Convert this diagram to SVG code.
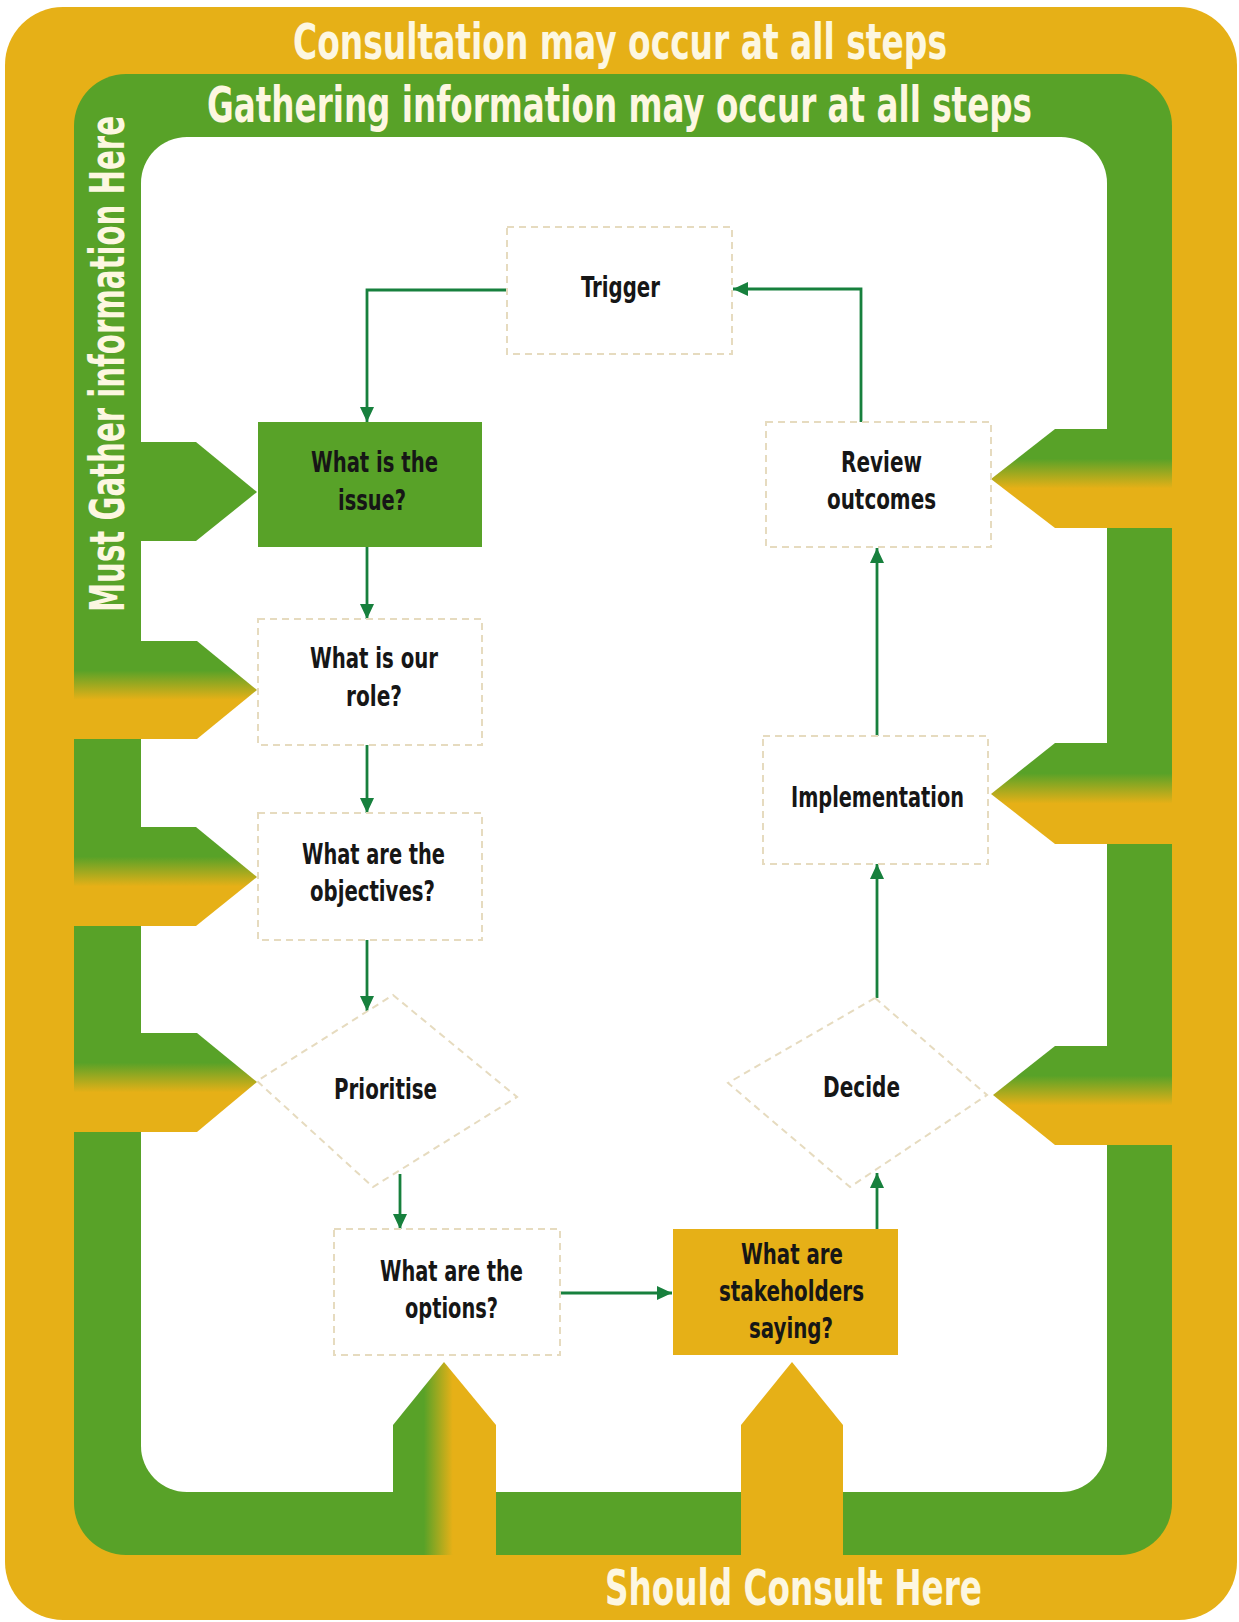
<svg xmlns="http://www.w3.org/2000/svg" width="1239" height="1622" viewBox="0 0 1239 1622">
  <style>
    .band-text { font-family: "Liberation Sans Narrow", "DejaVu Sans Condensed", "Liberation Sans", sans-serif; font-weight: bold; font-size: 36px; fill: #fdf7e1; }
    .node-text { font-family: "Liberation Sans Narrow", "DejaVu Sans Condensed", "Liberation Sans", sans-serif; font-weight: bold; font-size: 29px; fill: #161616; }
    .dash { fill: #ffffff; stroke: #e6dbbf; stroke-width: 2; stroke-dasharray: 7 5; }
    .conn { fill: none; stroke: #17803d; stroke-width: 2.8; marker-end: url(#arrow); }
    .green { fill: #58a228; }
    .orange { fill: #e6b017; }
  </style>
  <defs>
    <marker id="arrow" markerUnits="userSpaceOnUse" markerWidth="15" markerHeight="14" refX="15" refY="7" orient="auto">
      <path d="M0,0 L15,7 L0,14 z" fill="#17803d"/>
    </marker>
    <linearGradient id="gradV" x1="0" y1="0" x2="0" y2="1">
      <stop offset="0" stop-color="#58a228"/>
      <stop offset="0.3" stop-color="#58a228"/>
      <stop offset="0.6" stop-color="#e6b017"/>
      <stop offset="1" stop-color="#e6b017"/>
    </linearGradient>
    <linearGradient id="gradH" x1="0" y1="0" x2="1" y2="0">
      <stop offset="0" stop-color="#58a228"/>
      <stop offset="0.3" stop-color="#58a228"/>
      <stop offset="0.58" stop-color="#e6b017"/>
      <stop offset="1" stop-color="#e6b017"/>
    </linearGradient>
  </defs>

  <rect width="1239" height="1622" fill="#ffffff"/>

  <g id="bands">
    <rect class="orange" x="5" y="7" width="1232" height="1613" rx="58"/>
    <rect class="green" x="74" y="74" width="1098" height="1481" rx="52"/>
    <rect fill="#ffffff" x="141" y="137" width="966" height="1355" rx="46"/>
  </g>

  <g id="tabs">
    <polygon class="green" points="140,442 196,442 257,492 196,541 140,541"/>
    <polygon fill="url(#gradV)" points="74,641 197,641 257,690 197,739 74,739"/>
    <polygon fill="url(#gradV)" points="74,827 196,827 257,877 196,926 74,926"/>
    <polygon fill="url(#gradV)" points="74,1033 197,1033 257,1082 197,1132 74,1132"/>
    <polygon fill="url(#gradV)" points="1172,429 1055,429 991,479 1055,528 1172,528"/>
    <polygon fill="url(#gradV)" points="1172,743 1055,743 991,794 1055,844 1172,844"/>
    <polygon fill="url(#gradV)" points="1172,1046 1055,1046 993,1095 1055,1145 1172,1145"/>
    <polygon fill="url(#gradH)" points="393,1555 393,1425 444,1362 496,1425 496,1555"/>
    <polygon class="orange" points="741,1555 741,1425 792,1362 843,1425 843,1555"/>
  </g>

  <g id="band-labels">
    <text class="band-text" transform="translate(293,59) scale(1,1.37)" x="0" y="0" textLength="654" lengthAdjust="spacingAndGlyphs">Consultation may occur at all steps</text>
    <text class="band-text" transform="translate(207,122) scale(1,1.37)" x="0" y="0" textLength="825" lengthAdjust="spacingAndGlyphs">Gathering information may occur at all steps</text>
    <text class="band-text" transform="translate(124,612) rotate(-90) scale(1,1.35)" x="0" y="0" textLength="496" lengthAdjust="spacingAndGlyphs">Must Gather information Here</text>
    <text class="band-text" transform="translate(605,1605) scale(1,1.37)" x="0" y="0" textLength="377" lengthAdjust="spacingAndGlyphs">Should Consult Here</text>
  </g>

  <g id="connectors">
    <path class="conn" d="M507,290 H367 V422"/>
    <path class="conn" d="M367,547 V619"/>
    <path class="conn" d="M367,745 V813"/>
    <path class="conn" d="M367,940 V1011"/>
    <path class="conn" d="M400,1174 V1229"/>
    <path class="conn" d="M560,1293 H672"/>
    <path class="conn" d="M877,1229 V1173"/>
    <path class="conn" d="M877,998 V864"/>
    <path class="conn" d="M877,736 V548"/>
    <path class="conn" d="M861,422 V289 H733"/>
  </g>

  <g id="node-trigger">
    <rect class="dash" x="507" y="227" width="225" height="127"/>
    <text class="node-text" x="581" y="297" textLength="79" lengthAdjust="spacingAndGlyphs">Trigger</text>
  </g>

  <g id="node-issue">
    <rect class="green" x="258" y="422" width="224" height="125"/>
    <text class="node-text" x="311" y="472" textLength="127" lengthAdjust="spacingAndGlyphs">What is the</text>
    <text class="node-text" x="338" y="510" textLength="68" lengthAdjust="spacingAndGlyphs">issue?</text>
  </g>

  <g id="node-role">
    <rect class="dash" x="258" y="619" width="224" height="126"/>
    <text class="node-text" x="310" y="668" textLength="128" lengthAdjust="spacingAndGlyphs">What is our</text>
    <text class="node-text" x="346" y="706" textLength="56" lengthAdjust="spacingAndGlyphs">role?</text>
  </g>

  <g id="node-objectives">
    <rect class="dash" x="258" y="813" width="224" height="127"/>
    <text class="node-text" x="302" y="864" textLength="143" lengthAdjust="spacingAndGlyphs">What are the</text>
    <text class="node-text" x="310" y="901" textLength="125" lengthAdjust="spacingAndGlyphs">objectives?</text>
  </g>

  <g id="node-prioritise">
    <polygon class="dash" points="393,995 517,1097 373,1187 257,1081"/>
    <text class="node-text" x="334" y="1099" textLength="103" lengthAdjust="spacingAndGlyphs">Prioritise</text>
  </g>

  <g id="node-options">
    <rect class="dash" x="334" y="1229" width="226" height="126"/>
    <text class="node-text" x="380" y="1281" textLength="143" lengthAdjust="spacingAndGlyphs">What are the</text>
    <text class="node-text" x="405" y="1318" textLength="93" lengthAdjust="spacingAndGlyphs">options?</text>
  </g>

  <g id="node-stakeholders">
    <rect class="orange" x="673" y="1229" width="225" height="126"/>
    <text class="node-text" x="741" y="1264" textLength="102" lengthAdjust="spacingAndGlyphs">What are</text>
    <text class="node-text" x="719" y="1301" textLength="145" lengthAdjust="spacingAndGlyphs">stakeholders</text>
    <text class="node-text" x="749" y="1338" textLength="84" lengthAdjust="spacingAndGlyphs">saying?</text>
  </g>

  <g id="node-decide">
    <polygon class="dash" points="875,998 987,1095 850,1187 728,1083"/>
    <text class="node-text" x="823" y="1097" textLength="77" lengthAdjust="spacingAndGlyphs">Decide</text>
  </g>

  <g id="node-implementation">
    <rect class="dash" x="763" y="736" width="225" height="128"/>
    <text class="node-text" x="791" y="807" textLength="173" lengthAdjust="spacingAndGlyphs">Implementation</text>
  </g>

  <g id="node-review">
    <rect class="dash" x="766" y="422" width="225" height="125"/>
    <text class="node-text" x="841" y="472" textLength="81" lengthAdjust="spacingAndGlyphs">Review</text>
    <text class="node-text" x="827" y="509" textLength="109" lengthAdjust="spacingAndGlyphs">outcomes</text>
  </g>
</svg>
